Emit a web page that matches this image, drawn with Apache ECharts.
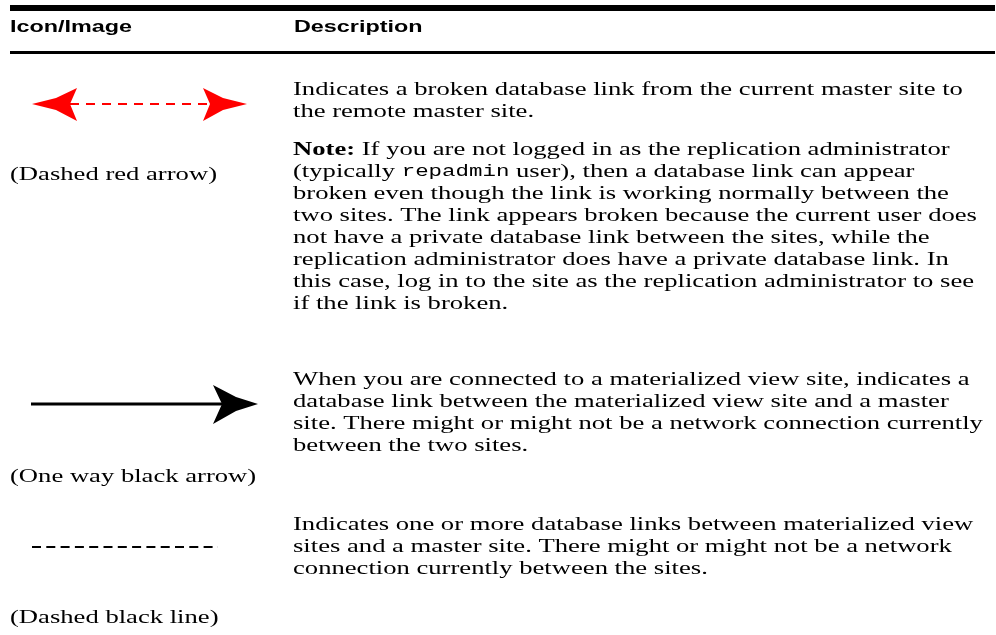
<!DOCTYPE html>
<html><head><meta charset="utf-8">
<script src="https://cdn.jsdelivr.net/npm/echarts@6/dist/echarts.min.js"></script>
<style>html,body{margin:0;padding:0;background:#fff}#c{width:996px;height:635px}</style>
</head><body><div id="c"></div>
<script>
const headers = ['Icon/Image', 'Description'];
const captions = ['(Dashed red arrow)', '(One way black arrow)', '(Dashed black line)'];
const row1Desc = [
  'Indicates a broken database link from the current master site to',
  'the remote master site.'
];
const row1Note = [
  '{b|Note:} If you are not logged in as the replication administrator',
  '(typically {m|repadmin} user), then a database link can appear',
  'broken even though the link is working normally between the',
  'two sites. The link appears broken because the current user does',
  'not have a private database link between the sites, while the',
  'replication administrator does have a private database link. In',
  'this case, log in to the site as the replication administrator to see',
  'if the link is broken.'
];
const row2Desc = [
  'When you are connected to a materialized view site, indicates a',
  'database link between the materialized view site and a master',
  'site. There might or might not be a network connection currently',
  'between the two sites.'
];
const row3Desc = [
  'Indicates one or more database links between materialized view',
  'sites and a master site. There might or might not be a network',
  'connection currently between the sites.'
];

const SERIF = '"Liberation Serif", "DejaVu Serif", serif';
const FS = 19, LH = 22;
const HF = 'bold 16px "Liberation Sans", Arial, sans-serif';
const ctx = document.createElement('canvas').getContext('2d');
function measure(font, s) { ctx.font = font; return ctx.measureText(s).width; }
const SX = 207 / measure(FS + 'px ' + SERIF, captions[0]);
const HSX = 122 / measure(HF, headers[0]);
const DX = 293, LX = 10;
const rich = {
  b: {fontFamily: SERIF, fontSize: FS, fontWeight: 'bold', fill: '#000'},
  m: {fontFamily: '"Liberation Mono", monospace', fontSize: 16, fill: '#000'}
};
function textLines(lines, x, y0) {
  return lines.map((t, i) => ({
    type: 'text', x: x, y: y0 + i * LH, scaleX: SX,
    style: {text: t, fill: '#000', font: FS + 'px ' + SERIF, textVerticalAlign: 'middle', rich: rich}
  }));
}
const els = [];
els.push({type: 'rect', shape: {x: 10, y: 5, width: 985, height: 6}, style: {fill: '#000'}});
els.push({type: 'rect', shape: {x: 10, y: 51, width: 985, height: 3}, style: {fill: '#000'}});
els.push({type: 'text', x: LX, y: 28, scaleX: HSX, style: {text: headers[0], fill: '#000', font: HF, textVerticalAlign: 'middle'}});
els.push({type: 'text', x: 294, y: 28, scaleX: HSX, style: {text: headers[1], fill: '#000', font: HF, textVerticalAlign: 'middle'}});
els.push(...textLines(row1Desc, DX, 90));
els.push(...textLines(row1Note, DX, 150));
els.push(...textLines(row2Desc, DX, 380));
els.push(...textLines(row3Desc, DX, 525));
const capY = [175, 477, 618];
captions.forEach((c, i) => els.push(...textLines([c], LX, capY[i])));
// red dashed double arrow
els.push({type: 'line', shape: {x1: 70, y1: 104, x2: 210, y2: 104}, style: {stroke: '#ff0000', lineWidth: 2, lineDash: [9, 7]}});
els.push({type: 'polygon', shape: {points: [[32,104],[56,98],[77,88],[70,104],[77,121],[56,110]]}, style: {fill: '#ff0000'}});
els.push({type: 'polygon', shape: {points: [[247,104],[223,98],[203,88],[210,104],[203,121],[223,110]]}, style: {fill: '#ff0000'}});
// black one-way arrow
els.push({type: 'line', shape: {x1: 31, y1: 404, x2: 222, y2: 404}, style: {stroke: '#000', lineWidth: 3}});
els.push({type: 'polygon', shape: {points: [[258,404],[236,397],[213,385],[222,404],[213,424],[236,411]]}, style: {fill: '#000'}});
// dashed black line
els.push({type: 'line', shape: {x1: 32, y1: 547, x2: 218, y2: 547}, style: {stroke: '#000', lineWidth: 2, lineDash: [9, 5.3]}});

const chart = echarts.init(document.getElementById('c'), null, {renderer: 'canvas'});
chart.setOption({backgroundColor: '#fff', graphic: {elements: els}});
</script></body></html>
